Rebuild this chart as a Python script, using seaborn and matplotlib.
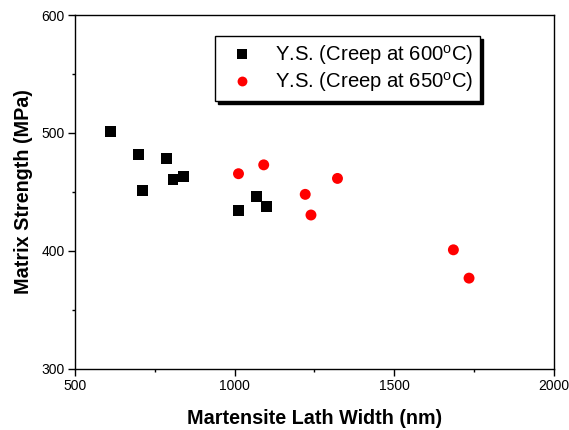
import pandas as pd
import numpy as np
import matplotlib
matplotlib.use("Agg")
import matplotlib.pyplot as plt
import seaborn as sns
from matplotlib.ticker import MultipleLocator

# lath width (nm) vs matrix strength (MPa)
lath_600 = [610, 699, 711, 788, 807, 839, 1012, 1069, 1101]
ys_600 = [501.5, 482, 451, 478.5, 460.5, 463, 434.5, 446, 437.5]
lath_650 = [1012, 1091, 1221, 1239, 1322, 1685, 1734]
ys_650 = [465.5, 473, 448, 430.5, 461.5, 401, 377]

lbl_600 = r"Y.S. (Creep at 600$^{\mathrm{o}}$C)"
lbl_650 = r"Y.S. (Creep at 650$^{\mathrm{o}}$C)"

df = pd.DataFrame({
    "width": lath_600 + lath_650,
    "strength": ys_600 + ys_650,
    "series": [lbl_600] * len(lath_600) + [lbl_650] * len(lath_650),
})

sns.set_style("ticks")
plt.rcParams["font.family"] = ["Liberation Sans", "DejaVu Sans"]
plt.rcParams["mathtext.fontset"] = "custom"
plt.rcParams["mathtext.rm"] = "Liberation Sans"
plt.rcParams["text.color"] = "black"
plt.rcParams["axes.labelcolor"] = "black"
plt.rcParams["xtick.color"] = "black"
plt.rcParams["ytick.color"] = "black"

fig = plt.figure(figsize=(5.69, 4.30), dpi=100)
ax = fig.add_axes([0.1318, 0.1419, 0.8418, 0.8232])

sns.scatterplot(data=df, x="width", y="strength", hue="series", style="series",
                palette={lbl_600: "black", lbl_650: "#ff0000"},
                markers={lbl_600: "s", lbl_650: "o"},
                s=62, edgecolor="none", linewidth=0, ax=ax)

ax.set_xlim(500, 2000)
ax.set_ylim(300, 600)
ax.xaxis.set_major_locator(MultipleLocator(500))
ax.xaxis.set_minor_locator(MultipleLocator(250))
ax.yaxis.set_major_locator(MultipleLocator(100))
ax.yaxis.set_minor_locator(MultipleLocator(50))
ax.tick_params(which="both", direction="out", top=False, right=False,
               labelsize=10, labelcolor="black", color="black")
ax.tick_params(which="major", length=5, width=1, pad=2.5)
ax.tick_params(which="minor", length=2.5, width=1)
for sp in ax.spines.values():
    sp.set_linewidth(1)
    sp.set_color("black")

ax.set_xlabel("Martensite Lath Width (nm)", fontsize=14.2, fontweight="bold", labelpad=11)
ax.set_ylabel("Matrix Strength (MPa)", fontsize=14.2, fontweight="bold", labelpad=6)

leg = ax.legend(loc="upper left", bbox_to_anchor=(0.292, 0.94), borderaxespad=0,
                fancybox=False, frameon=True, edgecolor="black", framealpha=1,
                shadow={"color": "black", "alpha": 1}, fontsize=14.6,
                handletextpad=0.6, borderpad=0.35, labelspacing=0.15,
                markerscale=0.9)
leg.get_frame().set_linewidth(1)

fig.savefig("out.png", dpi=100)
